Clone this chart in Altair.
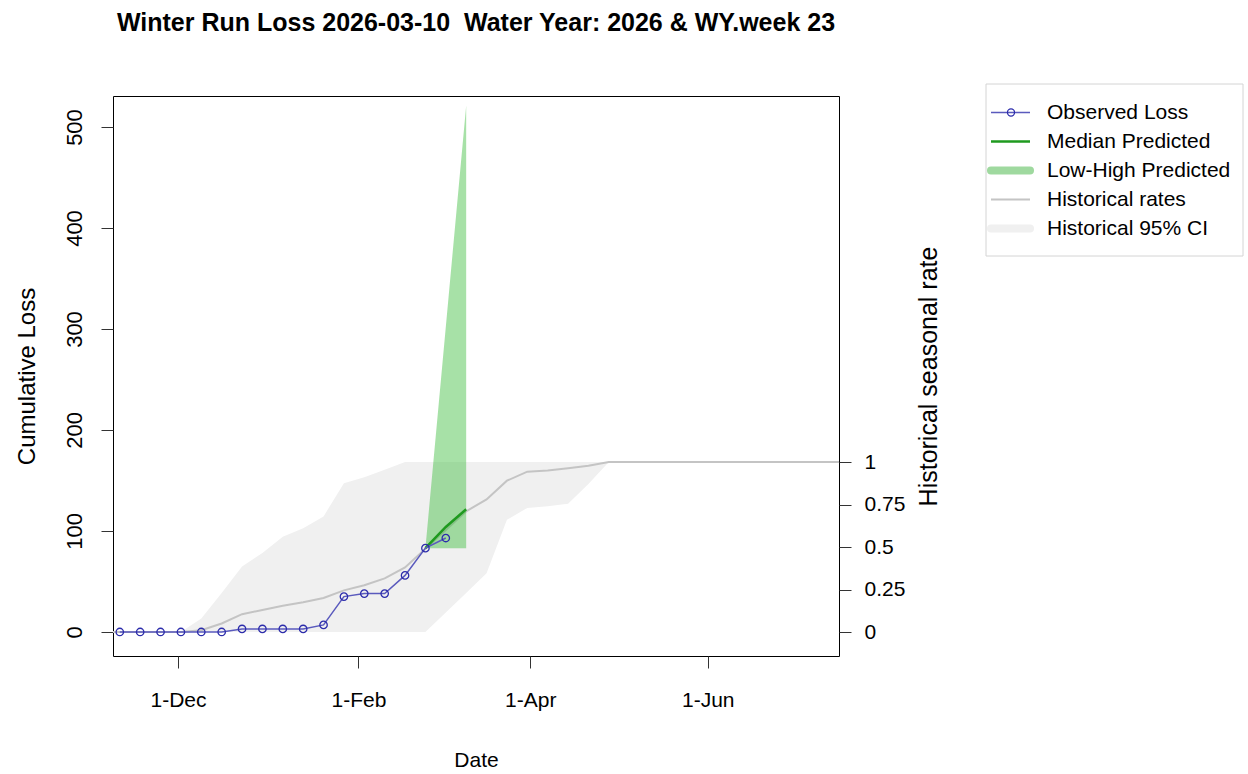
import altair as alt
import pandas as pd

# Observed weekly cumulative loss
obs_dates = ["2025-11-11", "2025-11-18", "2025-11-25", "2025-12-02", "2025-12-09",
             "2025-12-16", "2025-12-23", "2025-12-30", "2026-01-06", "2026-01-13",
             "2026-01-20", "2026-01-27", "2026-02-03", "2026-02-10", "2026-02-17",
             "2026-02-24", "2026-03-03"]
obs_loss = [0, 0, 0, 0, 0, 0, 3, 3, 3, 3, 7, 35, 38, 38, 56, 83, 93]

# Predicted loss (median and low-high range)
pred_dates = ["2026-02-24", "2026-03-03", "2026-03-10"]
pred_median = [83, 104, 121.5]
pred_low = [83, 83, 83]
pred_high = [83, 302, 521]

# Historical seasonal rate (share of season total) and its 95% CI
hist_dates = ["2025-11-04", "2025-11-11", "2025-11-18", "2025-11-25", "2025-12-02",
              "2025-12-09", "2025-12-16", "2025-12-23", "2025-12-30", "2026-01-06",
              "2026-01-13", "2026-01-20", "2026-01-27", "2026-02-03", "2026-02-10",
              "2026-02-17", "2026-02-24", "2026-03-03", "2026-03-10", "2026-03-17",
              "2026-03-24", "2026-03-31", "2026-04-07", "2026-04-14", "2026-04-21",
              "2026-04-28", "2026-05-05", "2026-05-12", "2026-05-19", "2026-05-26",
              "2026-06-02", "2026-06-09", "2026-06-16", "2026-06-23", "2026-06-30",
              "2026-07-07", "2026-07-14", "2026-07-21"]
hist_mean = [0, 0, 0, 0, 0, 0.01, 0.05, 0.105, 0.13, 0.155,
             0.175, 0.2, 0.245, 0.275, 0.315, 0.38, 0.49, 0.6, 0.71, 0.78,
             0.89, 0.943, 0.95, 0.963, 0.978, 1, 1, 1, 1, 1,
             1, 1, 1, 1, 1, 1, 1, 1]
hist_lo = [0, 0, 0, 0, 0, 0, 0, 0, 0, 0,
           0, 0, 0, 0, 0, 0, 0, 0.115, 0.23, 0.345,
           0.66, 0.73, 0.74, 0.755, 0.87, 1, 1, 1, 1, 1,
           1, 1, 1, 1, 1, 1, 1, 1]
hist_hi = [0, 0, 0, 0, 0, 0.08, 0.23, 0.385, 0.465, 0.56,
           0.61, 0.68, 0.875, 0.91, 0.955, 1, 1, 1, 1, 1,
           1, 1, 1, 1, 1, 1, 1, 1, 1, 1,
           1, 1, 1, 1, 1, 1, 1, 1]

legend_labels = ["Observed Loss", "Median Predicted", "Low-High Predicted",
                 "Historical rates", "Historical 95% CI"]

x_ticks = [(2025, 12), (2026, 2), (2026, 4), (2026, 6)]

obs_df = pd.DataFrame({"date": obs_dates, "loss": obs_loss})
pred_df = pd.DataFrame({"date": pred_dates, "median": pred_median,
                        "low": pred_low, "high": pred_high})
hist_df = pd.DataFrame({"date": hist_dates, "mean": hist_mean,
                        "lo": hist_lo, "hi": hist_hi})
legend_df = pd.DataFrame({"label": legend_labels, "row": list(range(len(legend_labels)))})

FONT = "Liberation Sans"

x_scale = alt.Scale(
    type="utc",
    domain=[alt.DateTime(year=2025, month=11, date=8, hours=16, utc=True),
            alt.DateTime(year=2026, month=7, date=16, hours=2, utc=True)],
)
x_axis = alt.Axis(
    values=[alt.DateTime(year=y, month=m, date=1, utc=True) for y, m in x_ticks],
    labelExpr="utcFormat(datum.value, '%-d-%b')",
    title="Date", tickSize=12, labelPadding=21, titlePadding=39, titleFontSize=21,
)


def xenc():
    return alt.X("date:T", scale=x_scale, axis=x_axis)


# Historical rates on the right-hand axis
rate_scale = alt.Scale(domain=[-24 / 170, 536 / 170], nice=False, zero=False)
rate_axis = alt.Axis(orient="right", values=[0, 0.25, 0.5, 0.75, 1], format="~g",
                     title="Historical seasonal rate", tickSize=12, labelPadding=13,
                     titleAngle=270, titlePadding=37, titleFontSize=25)

hist_band = alt.Chart(hist_df).mark_area(color="#f0f0f0", clip=True).encode(
    x=xenc(),
    y=alt.Y("lo:Q", scale=rate_scale, axis=rate_axis),
    y2="hi:Q",
)
hist_line = alt.Chart(hist_df).mark_line(color="#c4c4c4", strokeWidth=2, clip=True).encode(
    x=xenc(),
    y=alt.Y("mean:Q", scale=rate_scale, axis=rate_axis),
)
rate_layer = alt.layer(hist_band, hist_line)

# Loss on the left-hand axis
loss_scale = alt.Scale(domain=[-23.8, 530.7], nice=False, zero=False)
loss_axis = alt.Axis(orient="left", values=[0, 100, 200, 300, 400, 500],
                     title="Cumulative Loss", tickSize=12, labelPadding=15,
                     labelFontSize=22, labelAngle=270, labelAlign="center",
                     labelBaseline="bottom", titleAngle=270, titlePadding=24,
                     titleFontSize=24)

pred_band = alt.Chart(pred_df).mark_area(color="#3cbc3c", opacity=0.45, clip=True).encode(
    x=xenc(),
    y=alt.Y("low:Q", scale=loss_scale, axis=loss_axis),
    y2="high:Q",
)
pred_line = alt.Chart(pred_df).mark_line(color="#1f9a1f", strokeWidth=2.5, clip=True).encode(
    x=xenc(),
    y=alt.Y("median:Q", scale=loss_scale, axis=loss_axis),
)
obs_line = alt.Chart(obs_df).mark_line(color="#5a5abd", strokeWidth=1.5, clip=True).encode(
    x=xenc(),
    y=alt.Y("loss:Q", scale=loss_scale, axis=loss_axis),
)
obs_pts = alt.Chart(obs_df).mark_point(shape="circle", filled=False, color="#2c2cab",
                                       size=55, strokeWidth=1.3, opacity=1, clip=True).encode(
    x=xenc(),
    y=alt.Y("loss:Q", scale=loss_scale, axis=loss_axis),
)
loss_layer = alt.layer(pred_band, pred_line, obs_line, obs_pts)

# Legend panel to the right of the plot
row_y = alt.Y("row:Q", scale=alt.Scale(domain=[0, 4], range=[16.5, 132.5]), axis=None)
leg_base = alt.Chart(legend_df)
leg_box = alt.Chart(legend_df.head(1)).mark_rect(
    fill="white", stroke="#d4d4d4", strokeWidth=1
).encode(x=alt.value(873), x2=alt.value(1130), y=alt.value(-12), y2=alt.value(160))


def sample(row, **style):
    return leg_base.transform_filter(alt.datum.row == row).mark_rule(**style).encode(
        x=alt.value(878), x2=alt.value(917), y=row_y)


leg_samples = [
    sample(0, color="#5a5abd", strokeWidth=1.5),
    sample(1, color="#1f9a1f", strokeWidth=2.5),
    sample(2, color="#9fd99f", strokeWidth=8, strokeCap="round"),
    sample(3, color="#c4c4c4", strokeWidth=2),
    sample(4, color="#f0f0f0", strokeWidth=8, strokeCap="round"),
]
leg_point = leg_base.transform_filter(alt.datum.row == 0).mark_point(
    shape="circle", filled=False, color="#2c2cab", size=50, strokeWidth=1.3, opacity=1
).encode(x=alt.value(898), y=row_y)
leg_text = leg_base.mark_text(align="left", baseline="middle", font=FONT, fontSize=21,
                              color="black").encode(
    x=alt.value(934), y=row_y, text="label:N")
legend_layer = alt.layer(leg_box, *leg_samples, leg_point, leg_text)

chart = alt.layer(rate_layer, loss_layer, legend_layer).resolve_scale(
    y="independent"
).properties(
    width=726,
    height=560,
    background="white",
    title=alt.TitleParams(
        "Winter Run Loss 2026-03-10\u00a0 Water Year: 2026 & WY.week 23",
        font=FONT, fontSize=25, fontWeight="bold",
        anchor="middle", frame="group", offset=48, color="black",
    ),
    autosize=alt.AutoSizeParams(type="none"),
    padding={"left": 113, "top": 96, "right": 409, "bottom": 118},
).configure_view(
    stroke="black", strokeWidth=1
).configure_axis(
    labelFont=FONT, labelFontSize=21, labelColor="black",
    titleFont=FONT, titleFontSize=22, titleFontWeight="normal", titleColor="black",
    tickColor="#333333", grid=False, domain=False,
)

chart.save("out.html", embed_options={"renderer": "svg", "actions": False})
